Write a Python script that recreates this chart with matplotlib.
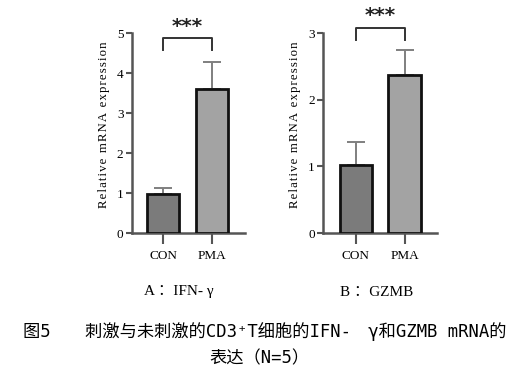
import matplotlib
matplotlib.use("Agg")
import matplotlib.pyplot as plt

categories = ["CON", "PMA"]
ifn_values = [0.97, 3.59]
ifn_errors = [0.15, 0.69]
gzmb_values = [1.02, 2.37]
gzmb_errors = [0.34, 0.37]
ifn_yticks = [0, 1, 2, 3, 4, 5]
gzmb_yticks = [0, 1, 2, 3]
bar_colors = ["#7b7b7b", "#a3a3a3"]
ylabel_text = "Relative mRNA expression"

fig = plt.figure(figsize=(5.21, 3.89), dpi=100)
serif = ["Liberation Serif", "DejaVu Serif"]
cjk = ["DejaVu Sans Mono", "Noto Sans CJK SC"]


def spaced(s):
    return "\u200a".join(s)


def panel(rect, values, errors, yticks, xlim, bracket, star_y):
    ax = fig.add_axes(rect)
    x = list(range(len(categories)))
    ax.bar(x, values, width=0.66, color=bar_colors, edgecolor="#111111",
           linewidth=2.0, zorder=3)
    ax.errorbar(x, values, yerr=[[0] * len(errors), errors], fmt="none",
                ecolor="#7f7f7f", elinewidth=1.4, capsize=6.5, capthick=1.4,
                zorder=2)
    ax.set_xlim(*xlim)
    ax.set_ylim(yticks[0], yticks[-1])
    ax.set_yticks(yticks)
    ax.set_yticklabels([str(t) for t in yticks], fontfamily=serif, fontsize=9.5)
    ax.set_xticks(x)
    ax.set_xticklabels(categories, fontfamily=serif, fontsize=9.5)
    for s in ["top", "right"]:
        ax.spines[s].set_visible(False)
    for s in ["left", "bottom"]:
        ax.spines[s].set_color("#555555")
        ax.spines[s].set_linewidth(1.8)
    ax.tick_params(axis="y", length=4, width=1.5, color="#555555", pad=2)
    ax.tick_params(axis="x", length=8, width=1.5, color="#555555", pad=4)
    ax.set_ylabel(spaced(ylabel_text), fontfamily=serif, fontsize=9.2,
                  labelpad=5)
    ax.yaxis.label.set_y(0.54)
    top, leg = bracket
    ax.plot([0, 0, 1, 1], [leg, top, top, leg], color="#333333", lw=1.4,
            clip_on=False)
    ax.text(0.5, star_y, "***", ha="center", va="center", fontsize=14.5,
            fontweight="bold", color="#222222", clip_on=False)
    return ax


panel([0.2528, 0.401, 0.2175, 0.514], ifn_values, ifn_errors, ifn_yticks,
      (-0.653, 1.688), (4.88, 4.57), 5.17)
panel([0.6206, 0.401, 0.2177, 0.514], gzmb_values, gzmb_errors, gzmb_yticks,
      (-0.667, 1.661), (3.07, 2.90), 3.26)

fig.text(179 / 521, 1 - 292 / 389, "A ：IFN- γ", ha="center", va="center",
         fontsize=11, fontfamily=["Liberation Serif", "Noto Sans CJK SC"])
fig.text(377 / 521, 1 - 292 / 389, "B ：GZMB", ha="center", va="center",
         fontsize=11, fontfamily=["Liberation Serif", "Noto Sans CJK SC"])
fig.text(265 / 521, 1 - 332 / 389,
         "图5　　刺激与未刺激的CD3\u207aT细胞的IFN-　γ和GZMB mRNA的",
         ha="center", va="center", fontsize=12.4, fontfamily=cjk)
fig.text(259 / 521, 1 - 358 / 389, "表达（N=5）", ha="center", va="center",
         fontsize=12.4, fontfamily=cjk)

fig.savefig("out.png", dpi=100)
